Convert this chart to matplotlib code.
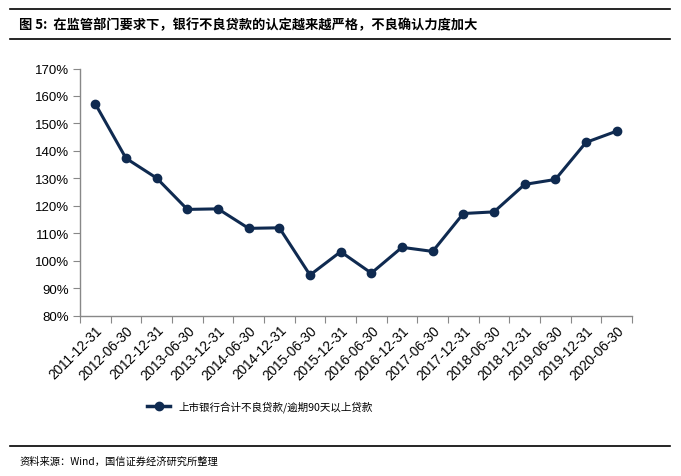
import matplotlib
matplotlib.use("Agg")
import matplotlib.pyplot as plt
from matplotlib.ticker import FuncFormatter
from matplotlib.lines import Line2D

plt.rcParams['font.family'] = ['Liberation Sans', 'Noto Sans CJK SC', 'DejaVu Sans']

dates = ['2011-12-31', '2012-06-30', '2012-12-31', '2013-06-30', '2013-12-31',
         '2014-06-30', '2014-12-31', '2015-06-30', '2015-12-31', '2016-06-30',
         '2016-12-31', '2017-06-30', '2017-12-31', '2018-06-30', '2018-12-31',
         '2019-06-30', '2019-12-31', '2020-06-30']
ratio = [157.1, 137.3, 130.1, 118.7, 118.9, 111.8, 112.0, 94.8, 103.3, 95.5,
         104.9, 103.4, 117.2, 117.8, 127.8, 129.6, 143.1, 147.2]

series_name = '上市银行合计不良贷款/逾期90天以上贷款'
title = '图 5:  在监管部门要求下，银行不良贷款的认定越来越严格，不良确认力度加大'
source = '资料来源：Wind，国信证券经济研究所整理'

color = '#0f2a50'

fig = plt.figure(figsize=(6.81, 4.77), dpi=100)
ax = fig.add_axes([80 / 681, 1 - 316.7 / 477, 552 / 681, 247.2 / 477])

x = list(range(len(dates)))
ax.plot(x, ratio, color=color, lw=2.2, marker='o', ms=6, zorder=3)

ax.set_xlim(-0.5, len(dates) - 0.5)
ax.set_ylim(80, 170)
ax.set_yticks(range(80, 171, 10))
ax.yaxis.set_major_formatter(FuncFormatter(lambda v, p: f'{v:.0f}%'))
ax.set_xticks([i - 0.5 for i in range(len(dates) + 1)], minor=False)
ax.set_xticklabels([''] * (len(dates) + 1))
ax.set_xticks(x, minor=True)
ax.set_xticklabels(dates, minor=True, rotation=45, ha='right', rotation_mode='anchor')
ax.tick_params(axis='x', which='minor', length=0, pad=5, labelsize=9.8, labelcolor='#000000')
ax.tick_params(axis='x', which='major', length=5, color='#888888', direction='out')
ax.tick_params(axis='y', length=5, color='#888888', labelsize=9.5, pad=3)

for s in ['top', 'right']:
    ax.spines[s].set_visible(False)
for s in ['left', 'bottom']:
    ax.spines[s].set_color('#888888')
    ax.spines[s].set_linewidth(1)

# legend
handle = Line2D([0], [0], color=color, lw=2.5, marker='o', ms=6)
fig.legend([handle], [series_name], loc='center', bbox_to_anchor=(0.382, 1 - 407 / 477),
           frameon=False, handlelength=2.2, handletextpad=0.8,
           prop={'family': ['Noto Sans CJK SC'], 'size': 7.6})

# title bar
fig.add_artist(Line2D([10 / 681, 670 / 681], [1 - 10 / 477] * 2, color='black', lw=1.2))
fig.add_artist(Line2D([10 / 681, 670 / 681], [1 - 40 / 477] * 2, color='black', lw=1.2))
fig.text(19 / 681, 1 - 25 / 477, title, fontsize=9.5, fontweight='bold', va='center',
         family=['Noto Sans CJK SC', 'DejaVu Sans'])

# footer
fig.add_artist(Line2D([10 / 681, 670 / 681], [1 - 447 / 477] * 2, color='black', lw=1.2))
fig.text(19 / 681, 1 - 462 / 477, source, fontsize=7.4, va='center',
         family=['Noto Sans CJK SC', 'DejaVu Sans'])

fig.savefig('out.png', dpi=100)
